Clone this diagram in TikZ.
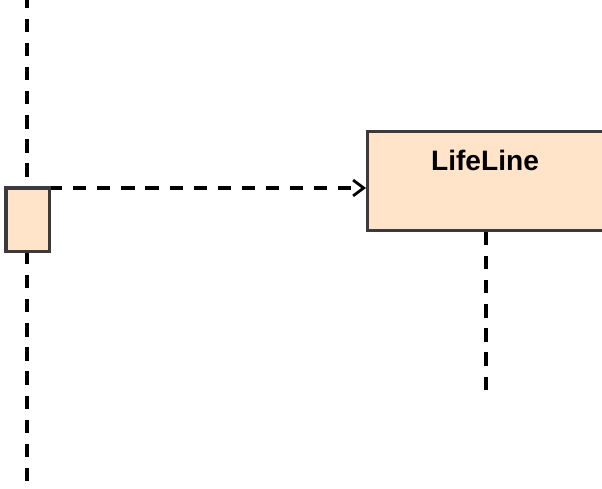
\documentclass[tikz,border=0pt]{standalone}
\usepackage{fontspec}
\setmainfont{Liberation Sans}
\usetikzlibrary{arrows.meta}
\definecolor{peach}{HTML}{FFE4CA}
\definecolor{edge}{HTML}{3C3A3C}
\tikzset{
  lifebox/.style={draw=edge,line width=1.8pt,fill=peach,inner sep=0pt,anchor=north west},
  lifedash/.style={line width=2pt,dash pattern=on 7.5pt off 6.2pt},
}

\begin{document}
\begin{tikzpicture}[x=0.02cm,y=-0.02cm]
                \useasboundingbox (0,0) rectangle (602,489);
                \node (act) at (6,188) [lifebox,minimum width=0.8cm,minimum height=1.2cm] {};
                \node (head) at (366,130) [lifebox,minimum width=5cm,minimum height=1.98cm] {};
                \node (lbl) at (485,160) [font=\bfseries\fontsize{16}{18}\selectfont] {LifeLine};

                \coordinate (top) at (27,-5);
                \coordinate (bot) at (27,495);
                \coordinate (end) at (486,391);

                \draw[lifedash] (top) -- (act.north -| top);
                \draw[lifedash] (act.south -| top) -- (bot);
                \draw[lifedash] (head.south -| end) -- (end);
                \draw[lifedash,-{Straight Barb[length=6pt,width=9pt,line width=1.6pt]}] (act.north east) -- (head.west |- act.north);
                \draw[lifebox] (act.north west) rectangle (act.south east);
            \end{tikzpicture}
\end{document}
